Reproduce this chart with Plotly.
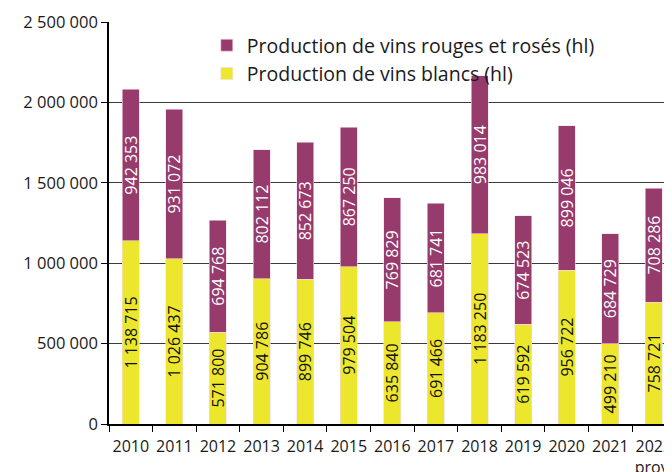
import plotly.graph_objects as go

years = ["2010", "2011", "2012", "2013", "2014", "2015", "2016", "2017", "2018", "2019", "2020", "2021", "2022<br>prov."]
blancs = [1138715, 1026437, 571800, 904786, 899746, 979504, 635840, 691466, 1183250, 619592, 956722, 499210, 758721]
rouges = [942353, 931072, 694768, 802112, 852673, 867250, 769829, 681741, 983014, 674523, 899046, 684729, 708286]
y_ticks = [0, 500000, 1000000, 1500000, 2000000, 2500000]

PURPLE = "#973a6c"
YELLOW = "#ece72c"
FONT = "Open Sans"

fig = go.Figure()
fig.add_trace(go.Bar(
    x=years, y=blancs, name="Production de vins blancs (hl)",
    marker=dict(color=YELLOW, line=dict(color="#f6dbe6", width=0.6)),
    texttemplate="%{y:,.0f}", textposition="inside", textangle=-90,
    insidetextanchor="middle", textfont=dict(color="#111111", size=16, family=FONT),
    hoverinfo="skip",
))
fig.add_trace(go.Bar(
    x=years, y=rouges, name="Production de vins rouges et rosés (hl)",
    marker=dict(color=PURPLE, line=dict(color="#f6dbe6", width=0.6)),
    texttemplate="%{y:,.0f}", textposition="inside", textangle=-90,
    insidetextanchor="middle", textfont=dict(color="white", size=16, family=FONT),
    hoverinfo="skip",
))

fig.update_layout(
    width=672, height=464,
    margin=dict(l=101, r=8, t=14, b=48),
    barmode="stack", bargap=0.61,
    separators=", ",
    plot_bgcolor="white", paper_bgcolor="white",
    font=dict(family=FONT, size=16, color="#1a1a1a"),
    uniformtext=dict(minsize=16, mode="show"),
    showlegend=True,
    legend=dict(
        x=0.1737, y=0.99, xanchor="left", yanchor="top",
        traceorder="reversed", font=dict(size=19.5, family=FONT, color="#1a1a1a"),
        bgcolor="rgba(0,0,0,0)", itemwidth=30, tracegroupgap=0,
    ),
    xaxis=dict(
        type="category", range=[-0.5, 12.416],
        showline=True, linecolor="black", linewidth=1.5,
        ticks="outside", tickson="boundaries", ticklen=6, tickcolor="black",
        showgrid=False, tickangle=0, automargin=False, ticklabelstandoff=7,
        ticklabeloverflow="allow",
        tickfont=dict(size=16, family=FONT, color="#1a1a1a"),
    ),
    yaxis=dict(
        range=[0, 2500000], tickvals=y_ticks, tickformat=",.0f",
        showline=True, linecolor="black", linewidth=1.5,
        ticks="outside", ticklen=6, tickcolor="black",
        showgrid=True, gridcolor="#3a3a3a", gridwidth=1,
        zeroline=False, automargin=False,
        tickfont=dict(size=16.5, family=FONT, color="#1a1a1a"),
    ),
)

fig.write_html("out.html")
